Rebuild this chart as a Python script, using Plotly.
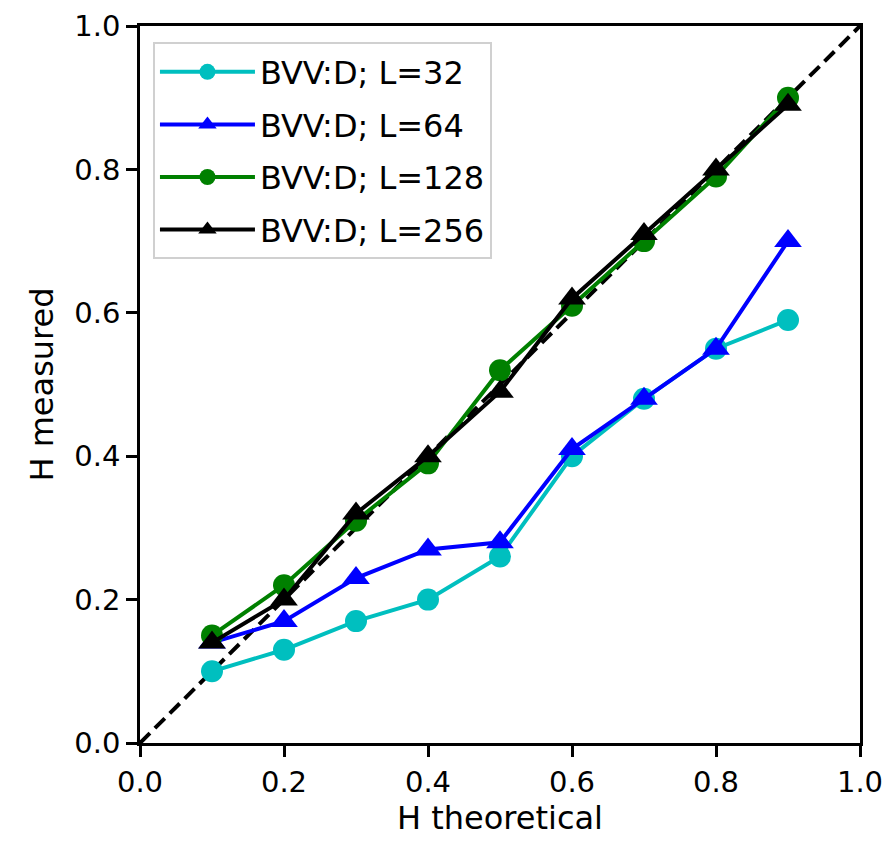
import plotly.graph_objects as go

h_theoretical = [0.1, 0.2, 0.3, 0.4, 0.5, 0.6, 0.7, 0.8, 0.9]
h_L32 = [0.10, 0.13, 0.17, 0.20, 0.26, 0.40, 0.48, 0.55, 0.59]
h_L64 = [0.14, 0.17, 0.23, 0.27, 0.28, 0.41, 0.48, 0.55, 0.70]
h_L128 = [0.15, 0.22, 0.31, 0.39, 0.52, 0.61, 0.70, 0.79, 0.90]
h_L256 = [0.14, 0.20, 0.32, 0.40, 0.49, 0.62, 0.71, 0.80, 0.89]
diag = [0.0, 1.0]
tick_vals = [0.0, 0.2, 0.4, 0.6, 0.8, 1.0]
tick_text = ["0.0", "0.2", "0.4", "0.6", "0.8", "1.0"]

series = [
    ("BVV:D; L=32", h_L32, "#00bfbf", "circle"),
    ("BVV:D; L=64", h_L64, "#0000ff", "triangle-up"),
    ("BVV:D; L=128", h_L128, "#008000", "circle"),
    ("BVV:D; L=256", h_L256, "#000000", "triangle-up"),
]

fig = go.Figure()
fig.add_trace(go.Scatter(x=diag, y=diag, mode="lines",
                         line=dict(color="black", width=4, dash="14px,7px"),
                         showlegend=False, hoverinfo="skip"))
for i, (name, ys, color, sym) in enumerate(series):
    fig.add_trace(go.Scatter(
        x=h_theoretical, y=ys, mode="lines+markers", name=name,
        legendgroup=f"g{i}",
        line=dict(color=color, width=4),
        marker=dict(color=color, symbol=sym, size=22 if sym == "circle" else 24,
                    line=dict(width=0)),
    ))

axis_common = dict(
    range=[0, 1], tickvals=tick_vals, ticktext=tick_text,
    showgrid=False, zeroline=False, showline=True, mirror=True,
    linecolor="black", linewidth=2.5, ticks="outside", ticklen=11, tickwidth=2.5,
    tickcolor="black", tickfont=dict(size=29, color="black", family="DejaVu Sans"),
    ticklabeloverflow="allow", automargin=False,
)
fig.update_layout(
    width=890, height=848,
    margin=dict(l=132, r=38, t=18, b=113),
    plot_bgcolor="white", paper_bgcolor="white",
    font=dict(family="DejaVu Sans", color="black"),
    xaxis=dict(**axis_common,
               title=dict(text="H theoretical", font=dict(size=32), standoff=10)),
    yaxis=dict(**axis_common,
               title=dict(text="H measured", font=dict(size=32), standoff=12)),
    legend=dict(x=0.018, y=0.977, xanchor="left", yanchor="top",
                bgcolor="rgba(255,255,255,0.85)", bordercolor="#d0d0d0",
                borderwidth=2, font=dict(size=32, color="black"),
                itemwidth=95, tracegroupgap=8, traceorder="grouped"),
)
fig.write_html("out.html")
